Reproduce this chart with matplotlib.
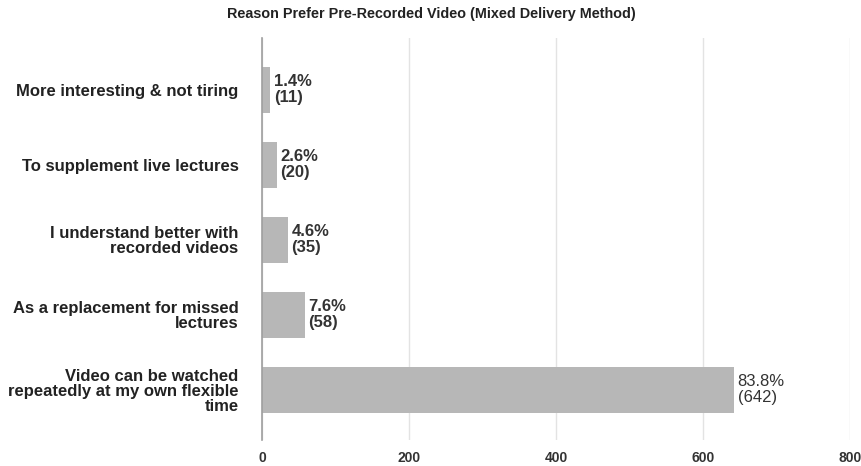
import matplotlib.pyplot as plt

# data
reasons = [
    "More interesting & not tiring",
    "To supplement live lectures",
    "I understand better with\nrecorded videos",
    "As a replacement for missed\nlectures",
    "Video can be watched\nrepeatedly at my own flexible\ntime",
]
counts = [11, 20, 35, 58, 642]
percents = [1.4, 2.6, 4.6, 7.6, 83.8]
x_ticks = [0, 200, 400, 600, 800]

plt.rcParams['font.family'] = ['Liberation Sans', 'DejaVu Sans']

fig = plt.figure(figsize=(8.62, 4.66), dpi=100)
ax = fig.add_axes([262 / 862, 1 - 440 / 466, (850 - 262) / 862, (440 - 38) / 466])

pos = list(range(len(reasons)))
ax.barh(pos, counts, height=0.61, color='#b7b7b7', zorder=2)

for i, (c, p) in enumerate(zip(counts, percents)):
    weight = 'normal' if i == len(counts) - 1 else 'bold'
    ax.text(c + 5, i, f"{p}%\n({c})", va='center', ha='left', fontsize=12,
            fontweight=weight, color='#333333', linespacing=1.05)

ax.set_xlim(0, 800)
ax.set_ylim(4.67, -0.69)
ax.set_xticks(x_ticks)
ax.set_xticklabels([str(t) for t in x_ticks], fontsize=10, fontweight='bold', color='#333333')
ax.set_yticks(pos)
ax.set_yticklabels(reasons, fontsize=12, fontweight='bold', color='#222222', linespacing=1.0)
ax.tick_params(axis='both', length=0)
ax.tick_params(axis='y', pad=17)
ax.tick_params(axis='x', pad=8)

ax.grid(axis='x', color='#e3e3e3', linewidth=1, zorder=0)
for s in ['top', 'right', 'bottom']:
    ax.spines[s].set_visible(False)
ax.spines['left'].set_color('#9e9e9e')
ax.spines['left'].set_linewidth(1.2)
ax.spines['left'].set_zorder(3)

fig.text(0.5, 1 - 14 / 466, "Reason Prefer Pre-Recorded Video (Mixed Delivery Method)",
         ha='center', va='center', fontsize=10.4, fontweight='bold', color='#222222')

fig.savefig('out.png', dpi=100)
